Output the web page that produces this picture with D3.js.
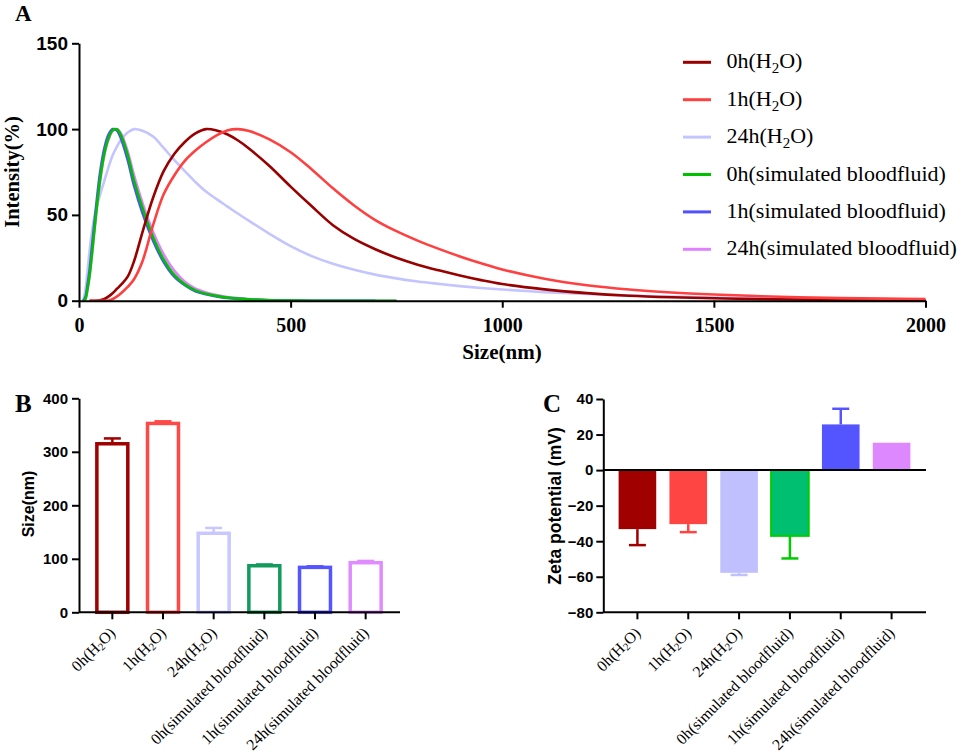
<!DOCTYPE html>
<html><head><meta charset="utf-8">
<script src="https://cdn.jsdelivr.net/npm/d3@7"></script>
<style>body{margin:0;background:#fff} svg{display:block}</style>
</head><body><svg id="c" width="957" height="754"></svg>
<script>
// ---------- DATA ----------
const sizes = [10,15,20,25,30,35,40,50,60,70,80,90,100,115,130,150,175,200,225,250,275,300,325,350,375,400,450,500,550,600,650,700,750,800,850,900,950,1000,1100,1200,1300,1400,1500,1600,1700,1800,1900,2000];
const int0hWater = [null,null,null,0,0,0,0, 0.3,1,2.5,4.5,7,9.5, 14,23,40,60,75.5, 85.5,92.5,97.5,100,99.2,97,93.5,89, 78.5,66.5,55,44,36,30,25,21,17.7,14.7,12,9.7, 6.6,4.4,2.9,2,1.4,1,0.7,0.5,0.3,0.2];
const int1hWater = [null,null,null,0,0,0,0, 0,0,0.1,1,2.5,4.5, 8,12.5,23,44,62, 73,81.5,87.5,92.3,96.3,99.2,100,99, 94,86.5,76.5,65.5,55.5,47,40.5,35,30.2,25.8,21.8,18.2, 12.8,9,6.5,4.8,3.6,2.7,2.0,1.5,1.2,1.0];
const int24hWater = [0,6,17,29,39,47,53, 62,70,78,85,90,94, 98,100,99,95.7,89, 82,75.5,69.2,63.6,59.2,55,50.8,46.8, 39,31.8,26,21.5,18,15.2,13,11.2,9.8,8.5,7.4,6.5, 5,3.9,3,2.4,1.9,1.5,1.2,0.9,0.7,0.5];
const int0hBlood = [0,1,7,15,26,38,50, 71,86,95,99.5,99.8,96, 85,70,54,37,24, 15,9.5,6,4,2.8,1.8,1.3,0.8, 0.3,0.1,0,0,0,0,0,null,null,null,null,null, null,null,null,null,null,null,null,null,null,null];
const int1hBlood = [0,2,9,18,30,42,54, 75,89,97,100,99,94, 82,67,51,35,22.5, 14,9,5.5,3.7,2.5,1.6,1.1,0.7, 0.3,0.1,0,0,0,0,null,null,null,null,null,null, null,null,null,null,null,null,null,null,null,null];
const int24hBlood = [0,1,6,14,25,37,49, 70,85,94,99,100,97, 87,73,57,40,27, 17.5,11,7,4.8,3.3,2.2,1.5,1, 0.4,0.2,0,0,0,0,0,null,null,null,null,null, null,null,null,null,null,null,null,null,null,null];

const categories = ["0h(H2O)","1h(H2O)","24h(H2O)","0h(simulated bloodfluid)","1h(simulated bloodfluid)","24h(simulated bloodfluid)"];
const sizeMeans = [315,353,147.7,87,84,92.7];
const sizeErrors = [10,4,10,2.5,2,3.3];
const zetaMeans = [-33.2,-30.4,-57.8,-37,25.7,15.4];
const zetaErrors = [9,4.5,1.2,12.7,8.8,0];

const xTicksA = [0,500,1000,1500,2000];
const yTicksA = [0,50,100,150];
const yTicksB = [0,100,200,300,400];
const yTicksC = [-80,-60,-40,-20,0,20,40];

const lineColors = ["#990000","#ff4040","#c4c4ff","#00c000","#5050ff","#e080ff"];
const strokeB = ["#a00000","#ff4848","#c8c8ff","#139b5e","#5555ff","#e08cff"];
const fillC = ["#a00000","#ff4444","#c0c0ff","#00bf70","#5555ff","#dd88ff"];
const strokeC = ["#a00000","#ff4444","#c0c0ff","#00cc00","#5555ff","#dd88ff"];

// ---------- SETUP ----------
const svg = d3.select("#c");
svg.append("rect").attr("width",957).attr("height",754).attr("fill","#fff");
const SERIF = "'Liberation Serif','Times New Roman',serif";
const SANS = "'Liberation Sans',Arial,sans-serif";

function styleAxis(g){
  g.selectAll("path.domain").attr("stroke","#000").attr("stroke-width",2);
  g.selectAll(".tick line").attr("stroke","#000").attr("stroke-width",2);
}
function addH2O(textSel, label, subSize, subDy){
  const i = label.indexOf("H2O");
  if(i<0){ textSel.text(label); return; }
  textSel.append("tspan").text(label.slice(0,i+1));
  textSel.append("tspan").text("2").attr("font-size",subSize).attr("dy",subDy);
  textSel.append("tspan").text(label.slice(i+2)).attr("dy",-subDy);
}

// ---------- PANEL A ----------
const xA = d3.scaleLinear().domain([0,2000]).range([79,925.5]);
const yA = d3.scaleLinear().domain([0,150]).range([300.7,43.3]);

const series = [
  {name:"0h(H2O)", vals:int0hWater, color:lineColors[0]},
  {name:"1h(H2O)", vals:int1hWater, color:lineColors[1]},
  {name:"24h(H2O)", vals:int24hWater, color:lineColors[2]},
  {name:"0h(simulated bloodfluid)", vals:int0hBlood, color:lineColors[3]},
  {name:"1h(simulated bloodfluid)", vals:int1hBlood, color:lineColors[4]},
  {name:"24h(simulated bloodfluid)", vals:int24hBlood, color:lineColors[5]}
];
const line = d3.line().defined(d=>d[1]!=null).x(d=>xA(d[0])).y(d=>yA(Math.max(0,d[1]))).curve(d3.curveCatmullRom.alpha(0.5));
const drawOrder = [2,5,4,3,0,1];
drawOrder.forEach(k=>{
  const s = series[k];
  svg.append("path").datum(sizes.map((x,i)=>[x,s.vals[i]]))
    .attr("d",line).attr("fill","none").attr("stroke",s.color).attr("stroke-width",2.6);
});

const axA_x = svg.append("g").attr("transform","translate(0,300.7)")
  .call(d3.axisBottom(xA).tickValues(xTicksA).tickSize(7).tickSizeOuter(0).tickFormat(d3.format("d")));
styleAxis(axA_x);
axA_x.selectAll("text").attr("font-family",SERIF).attr("font-weight","bold").attr("font-size",20).attr("fill","#000").attr("y",17).attr("dy","0.71em");
const axA_y = svg.append("g").attr("transform","translate(79,0)")
  .call(d3.axisLeft(yA).tickValues(yTicksA).tickSize(7).tickSizeOuter(0));
styleAxis(axA_y);
axA_y.selectAll("text").attr("font-family",SANS).attr("font-weight","bold").attr("font-size",19).attr("fill","#000").attr("x",-11);

svg.append("text").attr("transform","translate(19,172) rotate(-90)").attr("text-anchor","middle")
  .attr("font-family",SERIF).attr("font-weight","bold").attr("font-size",20.5).text("Intensity(%)");
svg.append("text").attr("x",502).attr("y",359).attr("text-anchor","middle")
  .attr("font-family",SERIF).attr("font-weight","bold").attr("font-size",21).text("Size(nm)");
svg.append("text").attr("x",15).attr("y",21).attr("font-family",SERIF).attr("font-weight","bold").attr("font-size",23).text("A");

// legend
series.forEach((s,i)=>{
  const by = 68.3 + i*37.4;
  svg.append("line").attr("x1",683).attr("x2",711).attr("y1",by-6).attr("y2",by-6)
    .attr("stroke",s.color).attr("stroke-width",3);
  const t = svg.append("text").attr("x",726.5).attr("y",by).attr("font-family",SERIF).attr("font-size",22).attr("fill","#000");
  addH2O(t, s.name, 15, 5);
});

// ---------- PANEL B ----------
const xB = d3.scaleBand().domain(categories).range([87,391]).paddingInner(0.33).paddingOuter(0.165);
const yB = d3.scaleLinear().domain([0,400]).range([612.3,398.3]);

svg.append("g").selectAll("rect").data(categories).join("rect")
  .attr("x",d=>xB(d)+1.5).attr("width",xB.bandwidth()-3)
  .attr("y",(d,i)=>yB(sizeMeans[i])).attr("height",(d,i)=>yB(0)-yB(sizeMeans[i]))
  .attr("fill","#fff").attr("stroke",(d,i)=>strokeB[i]).attr("stroke-width",3.5);
categories.forEach((c,i)=>{
  const cx = xB(c)+xB.bandwidth()/2;
  const y0 = yB(sizeMeans[i]), y1 = yB(sizeMeans[i]+sizeErrors[i]);
  svg.append("line").attr("x1",cx).attr("x2",cx).attr("y1",y0).attr("y2",y1).attr("stroke",strokeB[i]).attr("stroke-width",2.5);
  svg.append("line").attr("x1",cx-8.5).attr("x2",cx+8.5).attr("y1",y1).attr("y2",y1).attr("stroke",strokeB[i]).attr("stroke-width",2.5);
});
svg.append("line").attr("x1",79).attr("x2",400).attr("y1",612.3).attr("y2",612.3).attr("stroke","#000").attr("stroke-width",2);
const axB_x = svg.append("g").attr("transform","translate(0,612.3)")
  .call(d3.axisBottom(xB).tickSize(7).tickFormat(""));
axB_x.select(".domain").remove();
styleAxis(axB_x);
const axB_y = svg.append("g").attr("transform","translate(79,0)")
  .call(d3.axisLeft(yB).tickValues(yTicksB).tickSize(7).tickSizeOuter(0));
styleAxis(axB_y);
axB_y.selectAll("text").attr("font-family",SANS).attr("font-weight","bold").attr("font-size",15).attr("fill","#000").attr("x",-11);
categories.forEach(c=>{
  const cx = xB(c)+xB.bandwidth()/2;
  const t = svg.append("text").attr("transform",`translate(${cx+4},634) rotate(-45)`)
    .attr("text-anchor","end").attr("font-family",SERIF).attr("font-size",15.8).attr("fill","#000");
  addH2O(t, c, 10.5, 2);
});
svg.append("text").attr("transform","translate(34,504) rotate(-90)").attr("text-anchor","middle")
  .attr("font-family",SANS).attr("font-weight","bold").attr("font-size",16).text("Size(nm)");
svg.append("text").attr("x",15).attr("y",412).attr("font-family",SERIF).attr("font-weight","bold").attr("font-size",25).text("B");

// ---------- PANEL C ----------
const xC = d3.scaleBand().domain(categories).range([612,917]).paddingInner(0.26).paddingOuter(0.13);
const yC = d3.scaleLinear().domain([-80,40]).range([612.3,399]);

categories.forEach((c,i)=>{
  const cx = xC(c)+xC.bandwidth()/2;
  const v = zetaMeans[i], e = zetaErrors[i];
  if(e>0){
    const y0 = yC(v), y1 = yC(v + (v<0?-e:e));
    svg.append("line").attr("x1",cx).attr("x2",cx).attr("y1",y0).attr("y2",y1).attr("stroke",strokeC[i]).attr("stroke-width",2.5);
    svg.append("line").attr("x1",cx-8.5).attr("x2",cx+8.5).attr("y1",y1).attr("y2",y1).attr("stroke",strokeC[i]).attr("stroke-width",2.5);
  }
});
svg.append("g").selectAll("rect").data(categories).join("rect")
  .attr("x",d=>xC(d)).attr("width",xC.bandwidth())
  .attr("y",(d,i)=>Math.min(yC(zetaMeans[i]),yC(0))).attr("height",(d,i)=>Math.abs(yC(zetaMeans[i])-yC(0)))
  .attr("fill",(d,i)=>fillC[i]).attr("stroke",(d,i)=>i===3?strokeC[i]:"none").attr("stroke-width",2);
svg.append("line").attr("x1",603.3).attr("x2",926).attr("y1",yC(0)).attr("y2",yC(0)).attr("stroke","#000").attr("stroke-width",2);
svg.append("line").attr("x1",603.3).attr("x2",926).attr("y1",612.3).attr("y2",612.3).attr("stroke","#000").attr("stroke-width",2);
const axC_x = svg.append("g").attr("transform","translate(0,612.3)")
  .call(d3.axisBottom(xC).tickSize(7).tickFormat(""));
axC_x.select(".domain").remove();
styleAxis(axC_x);
const axC_y = svg.append("g").attr("transform","translate(603.3,0)")
  .call(d3.axisLeft(yC).tickValues(yTicksC).tickSize(7).tickSizeOuter(0));
styleAxis(axC_y);
axC_y.selectAll("text").attr("font-family",SANS).attr("font-weight","bold").attr("font-size",15).attr("fill","#000").attr("x",-10);
categories.forEach(c=>{
  const cx = xC(c)+xC.bandwidth()/2;
  const t = svg.append("text").attr("transform",`translate(${cx+4},634) rotate(-45)`)
    .attr("text-anchor","end").attr("font-family",SERIF).attr("font-size",15.8).attr("fill","#000");
  addH2O(t, c, 10.5, 2);
});
svg.append("text").attr("transform","translate(561,506) rotate(-90)").attr("text-anchor","middle")
  .attr("font-family",SANS).attr("font-weight","bold").attr("font-size",17.5).text("Zeta potential (mV)");
svg.append("text").attr("x",543).attr("y",412).attr("font-family",SERIF).attr("font-weight","bold").attr("font-size",25).text("C");
</script>
</body></html>
